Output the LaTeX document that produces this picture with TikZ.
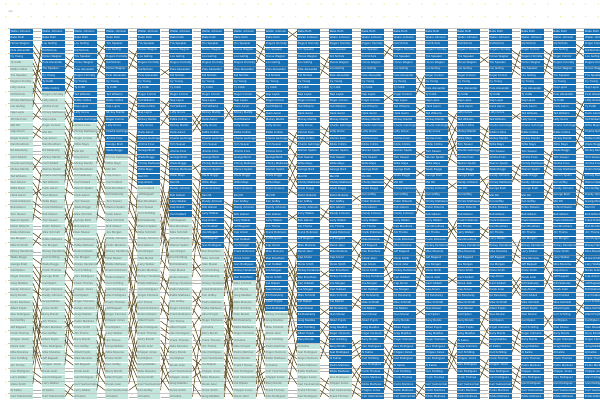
\documentclass[tikz,border=0pt]{standalone}
\usepackage{fontspec}
\setsansfont{Liberation Sans}
\definecolor{boxblue}{RGB}{22,112,182}
\definecolor{palec}{RGB}{194,229,220}
\definecolor{linkc}{RGB}{86,74,30}
\definecolor{dotc}{RGB}{244,236,140}
\newcount\cia
\newcount\cib
% move element of column #1 from row #2 up to row #3 (#3 < #2)
\def\moveup#1#2#3{%
  \edef\tmpm{\csname oA#1-#2\endcsname}%
  \cia=#2\relax
  \loop\ifnum\cia>#3\relax
    \cib=\cia \advance\cib by -1
    \expandafter\xdef\csname oA#1-\the\cia\endcsname{\csname oA#1-\the\cib\endcsname}%
    \advance\cia by -1
  \repeat
  \expandafter\xdef\csname oA#1-#3\endcsname{\tmpm}%
}
\begin{document}
\begin{tikzpicture}[x=1pt,y=-1pt,
  cell/.style={inner sep=0pt, inner xsep=0.8pt, minimum width=23pt, minimum height=5.45pt, anchor=north west, font=\sffamily\fontsize{2.9}{3}\selectfont},
  link/.style={draw=linkc, line width=0.55pt},
  samelink/.style={draw=black!30, line width=0.35pt},
  rowline/.style={draw=black!40, line width=0.4pt, opacity=0.55},
  dotmark/.style={fill=dotc, draw=none}]
\useasboundingbox (0,0) rectangle (600,400);
\clip (0,0) rectangle (600,400);
% ---- names ----
\foreach \nm [count=\i from 0] in {Walter Johnson, Babe Ruth, Honus Wagner, Pete Alexander, Cy Young, Ty Cobb, Eddie Collins, Tris Speaker, Rogers Hornsby, Lefty Grove, Kid Nichols, Christy Mathewson, Lou Gehrig, Nap Lajoie, Jimmie Foxx, Mel Ott, Cap Anson, Roger Connor, Dan Brouthers, Ed Delahanty, Carl Hubbell, Charlie Gehringer, Mickey Mantle, Ted Williams, Stan Musial, Willie Mays, Hank Aaron, Frank Robinson, Bob Gibson, Tom Seaver, Warren Spahn, Robin Roberts, Eddie Mathews, Joe Morgan, Mike Schmidt, Rickey Henderson, Wade Boggs, George Brett, Cal Ripken, Roger Clemens, Greg Maddux, Randy Johnson, Barry Bonds, Pedro Martinez, Albert Pujols, Alex Rodriguez, Ken Griffey, Jeff Bagwell, Frank Thomas, Chipper Jones, Derek Jeter, Mike Mussina, Curt Schilling, Jim Thome, Ivan Rodriguez, Larry Walker, Ozzie Smith, Al Kaline, Carl Yastrzemski}{%
  \expandafter\xdef\csname nm\i\endcsname{\nm}}
% ---- orders per column ----
\pgfmathsetseed{57}
\foreach \r in {0,...,58}{\expandafter\xdef\csname oA0-\r\endcsname{\r}\expandafter\xdef\csname pA0-\r\endcsname{\r}}
\foreach \k [evaluate=\k as \kp using int(\k-1)] in {1,...,18}{%
  \foreach \r in {0,...,58}{\expandafter\xdef\csname oA\k-\r\endcsname{\csname oA\kp-\r\endcsname}}%
  \pgfmathtruncatemacro{\cutk}{5*\k+5}%
  \foreach \m in {1,...,11}{%
    \pgfmathrandominteger{\ra}{2}{58}%
    \pgfmathrandominteger{\dd}{1}{4}%
    \pgfmathtruncatemacro{\rb}{max(\ra-\dd,2)}%
    \moveup{\k}{\ra}{\rb}%
  }%
  \ifnum\k=9 \moveup{9}{1}{0}\fi
  \ifnum\cutk<52
  \foreach \m in {1,...,10}{%
    \pgfmathrandominteger{\ra}{\cutk}{58}%
    \pgfmathrandominteger{\dd}{2}{15}%
    \pgfmathtruncatemacro{\rb}{max(\ra-\dd,2)}%
    \moveup{\k}{\ra}{\rb}%
  }%
  \fi
  \foreach \r in {0,...,58}{\expandafter\xdef\csname pA\k-\csname oA\k-\r\endcsname\endcsname{\r}}%
}
% ---- background dots ----
\fill[white] (0,0) rectangle (600,400);
\foreach \i in {0,...,47}{\foreach \j in {0,...,31}{%
  \fill[dotmark] (6+12.6*\i,4+12.6*\j) circle (0.75);}}
% ---- top small text ----
\node[font=\sffamily\fontsize{3.2}{4}\selectfont, text=black!70, anchor=west] (toptxt) at (5,12) {‹‹‹‹};
% ---- cells ----
\foreach \k in {0,...,18}{%
  \pgfmathsetmacro{\xx}{9.5+31.93*\k}%
  \pgfmathtruncatemacro{\cut}{5*(\k+1)}%
  \foreach \r in {0,...,58}{%
    \pgfmathsetmacro{\yy}{28.4+6.3*\r}%
    \edef\nn{\csname oA\k-\r\endcsname}%
    \ifnum\r<\cut \def\fc{boxblue}\def\tc{white}\else\def\fc{palec}\def\tc{black!60}\fi
    \node[cell, fill=\fc, text=\tc] (c\k-\r) at (\xx,\yy) {\makebox[21.4pt][l]{\csname nm\nn\endcsname}};
  }%
}
% ---- row lines ----
\foreach \j in {0,...,29}{%
  \coordinate (la\j) at (8,28+12.6*\j);
  \coordinate (lb\j) at (600,28+12.6*\j);
  \draw[rowline] (la\j) -- (lb\j);}
% ---- connectors ----
\foreach \k [evaluate=\k as \kn using int(\k+1)] in {0,...,17}{%
  \foreach \r in {0,...,58}{%
    \edef\nn{\csname oA\k-\r\endcsname}%
    \edef\ss{\csname pA\kn-\nn\endcsname}%
    \ifnum\r=\ss\relax
      \draw[samelink] (c\k-\r.east) -- (c\kn-\ss.west);
    \else
      \draw[link] (c\k-\r.east) -- (c\kn-\ss.west);
    \fi
  }%
}
\end{tikzpicture}
\end{document}
